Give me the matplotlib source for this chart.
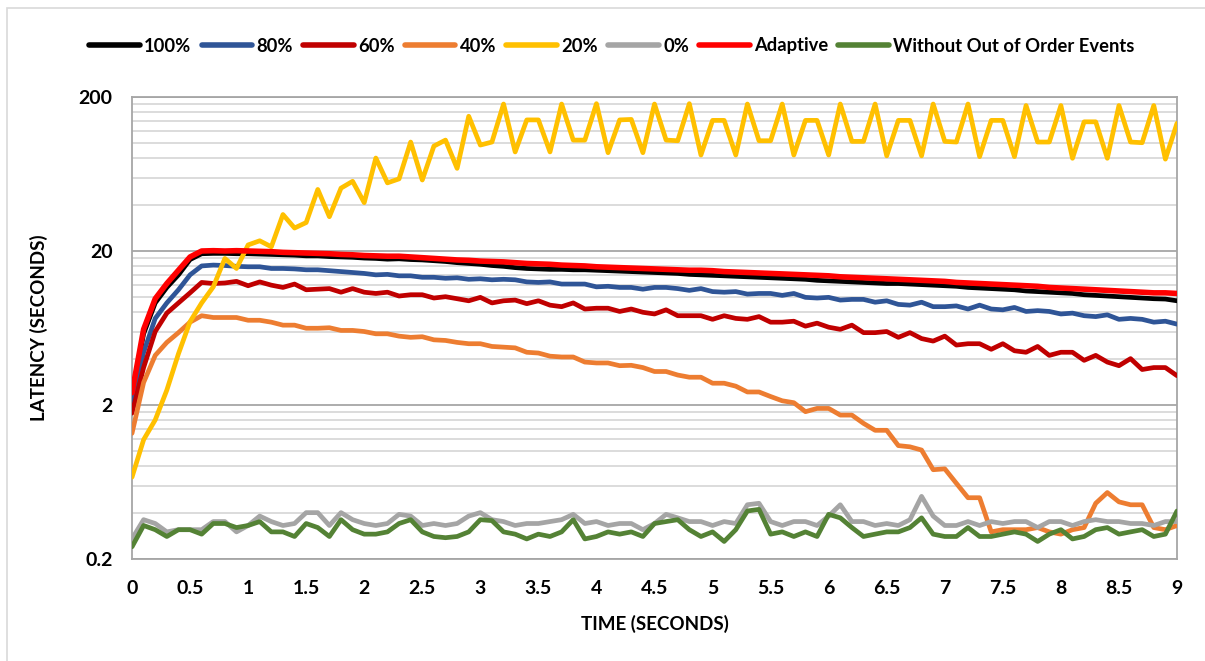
import numpy as np
import matplotlib
matplotlib.use('Agg')
import matplotlib.pyplot as plt
from matplotlib.patches import Rectangle
from matplotlib.ticker import FixedLocator, FixedFormatter, MultipleLocator, FormatStrFormatter, NullFormatter

# time axis (seconds), one sample every 0.1 s
time_s = [round(i * 0.1, 1) for i in range(91)]

lat_100 = [2.3, 5.8, 9.2, 11.6, 14.0, 17.6, 19.2, 19.3, 19.3, 19.2,
           19.2, 19.1, 19.0, 18.9, 18.8, 18.6, 18.6, 18.4, 18.3, 18.2,
           18.0, 17.9, 17.7, 17.8, 17.6, 17.5, 17.3, 17.1, 16.8, 16.6,
           16.4, 16.1, 15.9, 15.6, 15.4, 15.3, 15.2, 15.2, 15.1, 15.1,
           15.0, 14.9, 14.8, 14.7, 14.6, 14.5, 14.4, 14.3, 14.1, 14.0,
           13.9, 13.8, 13.7, 13.6, 13.5, 13.4, 13.3, 13.2, 13.1, 12.9,
           12.8, 12.7, 12.6, 12.5, 12.4, 12.3, 12.3, 12.2, 12.1, 12.0,
           11.9, 11.8, 11.6, 11.5, 11.4, 11.3, 11.2, 11.0, 10.9, 10.8,
           10.7, 10.6, 10.4, 10.3, 10.2, 10.1, 10.0, 9.9, 9.8, 9.75,
           9.5]

lat_80 = [2.0, 4.4, 7.3, 9.2, 11.2, 14.0, 16.0, 16.2, 16.1, 15.9,
          15.8, 15.8, 15.4, 15.4, 15.3, 15.1, 15.1, 14.9, 14.7, 14.5,
          14.3, 14.0, 14.1, 13.8, 13.8, 13.5, 13.5, 13.3, 13.4, 13.1,
          13.2, 13.0, 13.1, 13.0, 12.6, 12.5, 12.6, 12.2, 12.2, 12.2,
          11.7, 11.8, 11.6, 11.6, 11.3, 11.6, 11.6, 11.4, 11.1, 11.4,
          10.9, 10.8, 10.9, 10.5, 10.6, 10.6, 10.3, 10.6, 10.0, 9.9,
          10.0, 9.6, 9.7, 9.7, 9.3, 9.5, 9.0, 8.9, 9.3, 8.7,
          8.7, 8.8, 8.4, 8.9, 8.4, 8.3, 8.6, 8.1, 8.2, 8.1,
          7.8, 7.9, 7.6, 7.5, 7.7, 7.2, 7.3, 7.2, 6.9, 7.0,
          6.7]

lat_60 = [1.77, 3.5, 6.0, 7.9, 9.2, 10.7, 12.5, 12.3, 12.4, 12.7,
          11.9, 12.6, 12.0, 11.6, 12.2, 11.2, 11.3, 11.4, 10.8, 11.4,
          10.8, 10.6, 10.8, 10.2, 10.4, 10.4, 9.9, 10.1, 9.8, 9.5,
          10.0, 9.2, 9.5, 9.6, 9.1, 9.5, 8.9, 8.7, 9.2, 8.4,
          8.5, 8.5, 8.1, 8.4, 8.0, 7.8, 8.3, 7.6, 7.6, 7.6,
          7.2, 7.6, 7.3, 7.2, 7.5, 6.9, 6.9, 7.0, 6.5, 6.8,
          6.4, 6.2, 6.6, 5.9, 5.9, 6.0, 5.5, 5.9, 5.4, 5.2,
          5.6, 4.9, 5.0, 5.0, 4.6, 5.0, 4.5, 4.4, 4.8, 4.2,
          4.4, 4.4, 3.9, 4.2, 3.8, 3.6, 4.0, 3.4, 3.5, 3.5,
          3.1]

lat_40 = [1.31, 2.8, 4.2, 5.1, 5.9, 6.9, 7.6, 7.4, 7.4, 7.4,
          7.1, 7.1, 6.9, 6.6, 6.6, 6.3, 6.3, 6.35, 6.1, 6.1,
          6.0, 5.8, 5.8, 5.6, 5.5, 5.55, 5.3, 5.25, 5.1, 5.0,
          5.0, 4.8, 4.75, 4.7, 4.4, 4.35, 4.15, 4.1, 4.1, 3.8,
          3.75, 3.75, 3.6, 3.62, 3.5, 3.3, 3.3, 3.13, 3.03, 3.03,
          2.77, 2.77, 2.65, 2.43, 2.43, 2.27, 2.13, 2.07, 1.81, 1.90,
          1.90, 1.72, 1.72, 1.52, 1.37, 1.37, 1.09, 1.07, 1.02, 0.76,
          0.77, 0.62, 0.50, 0.50, 0.30, 0.31, 0.31, 0.31, 0.32, 0.30,
          0.29, 0.31, 0.32, 0.46, 0.54, 0.47, 0.45, 0.45, 0.32, 0.31,
          0.33]

lat_20 = [0.68, 1.19, 1.6, 2.5, 4.3, 6.95, 9.2, 11.7, 17.9, 15.4,
          21.9, 23.3, 21.3, 34.5, 28.2, 30.6, 50.2, 33.4, 51.2, 56.7,
          41.2, 80.3, 55.4, 58.8, 102, 57.8, 96, 105, 68.8, 150,
          97.5, 102, 180, 88, 142, 142, 88, 180, 105, 105,
          181, 87, 142, 143, 87, 180, 105, 104, 181, 84,
          141, 141, 84, 180, 104, 104, 180, 84, 141, 141,
          84, 180, 103, 103, 180, 83, 141, 141, 83, 180,
          103, 102, 180, 82, 141, 141, 82, 176, 102, 102,
          176, 80, 138, 138, 80, 176, 102, 101, 176, 79,
          135]

lat_0 = [0.27, 0.36, 0.34, 0.30, 0.31, 0.31, 0.31, 0.35, 0.35, 0.30,
         0.33, 0.38, 0.35, 0.33, 0.34, 0.40, 0.40, 0.33, 0.40, 0.36,
         0.34, 0.33, 0.34, 0.39, 0.38, 0.33, 0.34, 0.33, 0.34, 0.38,
         0.40, 0.36, 0.35, 0.33, 0.34, 0.34, 0.35, 0.36, 0.39, 0.34,
         0.35, 0.33, 0.34, 0.34, 0.31, 0.34, 0.39, 0.37, 0.35, 0.35,
         0.33, 0.35, 0.34, 0.45, 0.46, 0.35, 0.33, 0.35, 0.35, 0.33,
         0.38, 0.45, 0.35, 0.35, 0.33, 0.34, 0.33, 0.36, 0.51, 0.38,
         0.33, 0.33, 0.35, 0.33, 0.35, 0.34, 0.35, 0.35, 0.32, 0.35,
         0.35, 0.33, 0.35, 0.36, 0.35, 0.35, 0.34, 0.34, 0.33, 0.35,
         0.35]

lat_adaptive = [2.4, 6.2, 9.8, 12.3, 15.0, 18.3, 20.0, 20.1, 20.0, 20.1,
                20.0, 19.9, 19.8, 19.6, 19.5, 19.4, 19.3, 19.2, 19.0, 18.9,
                18.7, 18.6, 18.5, 18.5, 18.3, 18.1, 17.9, 17.7, 17.5, 17.4,
                17.2, 17.1, 17.0, 16.8, 16.6, 16.5, 16.4, 16.2, 16.1, 16.0,
                15.8, 15.7, 15.6, 15.5, 15.4, 15.3, 15.2, 15.1, 15.0, 15.0,
                14.9, 14.7, 14.6, 14.5, 14.4, 14.3, 14.2, 14.1, 14.0, 13.9,
                13.8, 13.6, 13.5, 13.4, 13.3, 13.2, 13.1, 13.0, 12.9, 12.8,
                12.7, 12.5, 12.4, 12.3, 12.2, 12.1, 12.0, 11.9, 11.8, 11.6,
                11.5, 11.4, 11.3, 11.2, 11.1, 11.0, 10.9, 10.8, 10.7, 10.7,
                10.6]

lat_no_ooo = [0.24, 0.33, 0.31, 0.28, 0.31, 0.31, 0.29, 0.34, 0.34, 0.32,
              0.33, 0.35, 0.30, 0.30, 0.28, 0.34, 0.32, 0.28, 0.36, 0.31,
              0.29, 0.29, 0.30, 0.34, 0.36, 0.30, 0.28, 0.275, 0.28, 0.30,
              0.36, 0.355, 0.30, 0.29, 0.27, 0.29, 0.28, 0.30, 0.36, 0.27,
              0.28, 0.30, 0.29, 0.30, 0.28, 0.34, 0.35, 0.36, 0.31, 0.28,
              0.30, 0.26, 0.31, 0.41, 0.42, 0.29, 0.30, 0.28, 0.30, 0.28,
              0.39, 0.37, 0.32, 0.28, 0.29, 0.30, 0.30, 0.32, 0.37, 0.29,
              0.28, 0.28, 0.32, 0.28, 0.28, 0.29, 0.30, 0.29, 0.26, 0.29,
              0.31, 0.27, 0.28, 0.31, 0.32, 0.29, 0.30, 0.31, 0.28, 0.29,
              0.41]

series_names = ["100%", "80%", "60%", "40%", "20%", "0%", "Adaptive", "Without Out of Order Events"]
series_colors = ["#000000", "#2F5597", "#C00000", "#ED7D31", "#FFC000", "#A5A5A5", "#FF0000", "#548235"]
series_data = [lat_100, lat_80, lat_60, lat_40, lat_20, lat_0, lat_adaptive, lat_no_ooo]

y_ticks = [0.2, 2, 20, 200]
y_tick_labels = ["0.2", "2", "20", "200"]

FONT = "Lato"
plt.rcParams['font.family'] = [FONT, 'DejaVu Sans']
plt.rcParams['font.weight'] = 'bold'

W, H = 1205, 661
dpi = 100
fig = plt.figure(figsize=(W / dpi, H / dpi), dpi=dpi)
fig.patch.set_facecolor('white')

# chart area border (Excel style)
fig.patches.append(Rectangle((7.5 / W, -0.1), 1.2, 1 - 7.5 / H + 0.1, transform=fig.transFigure,
                             fill=False, edgecolor='#D9D9D9', linewidth=1.2))

ax = fig.add_axes([132 / W, 1 - 559 / H, (1177 - 132) / W, (559 - 97) / H])

for name, color, vals in zip(series_names, series_colors, series_data):
    lw = 4.0 if name == "Adaptive" else 3.4
    ax.plot(time_s, vals, color=color, linewidth=lw, label=name,
            solid_joinstyle='round', solid_capstyle='round', zorder=3)

ax.set_yscale('log')
ax.set_ylim(0.2, 200)
ax.set_xlim(0, 9)

minor = []
for dec in [0.2, 2, 20]:
    for k in range(2, 10):
        minor.append(dec * k)
ax.yaxis.set_major_locator(FixedLocator(y_ticks))
ax.yaxis.set_major_formatter(FixedFormatter(y_tick_labels))
ax.yaxis.set_minor_locator(FixedLocator(minor))
ax.yaxis.set_minor_formatter(NullFormatter())
ax.xaxis.set_major_locator(MultipleLocator(0.5))
ax.xaxis.set_major_formatter(FormatStrFormatter('%g'))

ax.grid(True, which='major', axis='y', color='#A6A6A6', linewidth=1.3, zorder=1)
ax.grid(True, which='minor', axis='y', color='#D9D9D9', linewidth=1.3, zorder=1)
ax.set_axisbelow(True)
for s in ax.spines.values():
    s.set_color('#A6A6A6')
    s.set_linewidth(1.3)

ax.tick_params(axis='both', which='both', length=0, labelsize=14, colors='black')
ax.tick_params(axis='y', pad=14)
ax.tick_params(axis='x', pad=15)
for lab in ax.get_xticklabels() + ax.get_yticklabels():
    lab.set_fontweight('bold')

ax.set_xlabel("TIME (SECONDS)", fontsize=13.5, fontweight='bold', labelpad=13)
ax.set_ylabel("LATENCY (SECONDS)", fontsize=13.5, fontweight='bold', labelpad=22)

leg = fig.legend(loc='center', bbox_to_anchor=(612 / W, 1 - 46 / H), ncol=8, frameon=False,
                 handlelength=2.75, handletextpad=0.25, columnspacing=0.55,
                 prop={'weight': 'bold', 'size': 13.2})
for line in leg.get_lines():
    line.set_linewidth(4.0)
    line.set_solid_capstyle('round')

fig.savefig("out.png", dpi=dpi)
plt.close(fig)
